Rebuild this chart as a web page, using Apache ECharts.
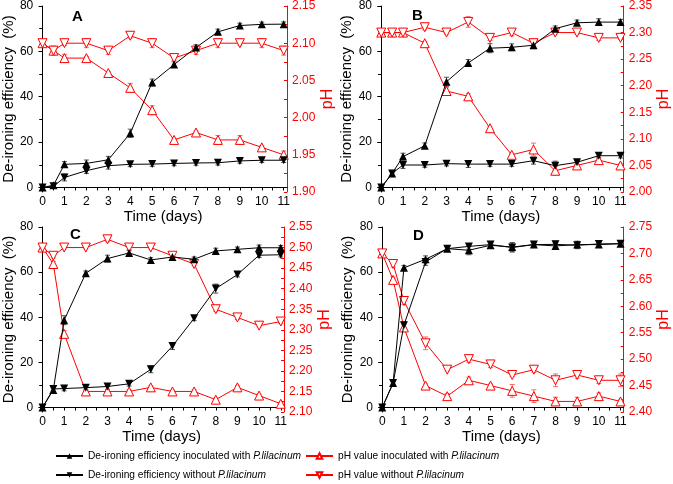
<!DOCTYPE html>
<html><head><meta charset="utf-8">
<script src="https://cdn.jsdelivr.net/npm/echarts@6/dist/echarts.min.js"></script>
<style>html,body{margin:0;padding:0;background:#fff}#c{width:673px;height:484px}</style>
</head><body><div id="c"></div>
<script>
// ---------- data ----------
const days = [0, 0.5, 1, 2, 3, 4, 5, 6, 7, 8, 9, 10, 11];
const dayTicks = [0, 1, 2, 3, 4, 5, 6, 7, 8, 9, 10, 11];
const effTicks = [0, 20, 40, 60, 80];

// Panel A
const aEffInoc = [0, 1, 10.2, 10.6, 12.2, 23.9, 46.3, 54.2, 61.7, 68.6, 71.4, 71.9, 72.0];
const aEffInocErr = [0.5, 0.8, 1.2, 1.5, 1.5, 1.8, 1.5, 1.2, 1.2, 1.2, 1.0, 1.0, 1.0];
const aEffWithout = [0, 0.5, 4.4, 7.4, 9.6, 10.2, 10.3, 10.6, 10.8, 10.9, 11.7, 12.0, 12.0];
const aEffWithoutErr = [0.5, 0.5, 1.5, 1.2, 1.5, 1.0, 1.0, 1.0, 1.0, 1.0, 1.0, 1.0, 1.0];
const aPhInoc = [2.10, 2.09, 2.08, 2.08, 2.06, 2.04, 2.01, 1.97, 1.98, 1.97, 1.97, 1.96, 1.95];
const aPhInocErr = [0.003, 0.006, 0.005, 0.002, 0.002, 0.006, 0.006, 0.002, 0.002, 0.006, 0.006, 0.002, 0.005];
const aPhWithout = [2.10, 2.09, 2.10, 2.10, 2.09, 2.11, 2.10, 2.08, 2.09, 2.10, 2.10, 2.10, 2.09];
const aPhWithoutErr = [0.003, 0.006, 0.003, 0.006, 0.005, 0.003, 0.006, 0.003, 0.005, 0.006, 0.003, 0.006, 0.006];
const aPhTicks = [1.90, 1.95, 2.00, 2.05, 2.10, 2.15];

// Panel B
const bEffInoc = [0, 6.2, 13.6, 18.4, 46.6, 54.9, 61.4, 61.8, 62.7, 70.0, 72.6, 72.9, 72.9];
const bEffInocErr = [0.5, 1.2, 1.5, 1.2, 2.0, 1.5, 2.0, 1.5, 1.5, 1.2, 1.2, 1.5, 1.2];
const bEffWithout = [0, 6.2, 9.9, 9.9, 10.5, 10.3, 10.3, 10.3, 11.8, 9.6, 11.1, 14.0, 14.0];
const bEffWithoutErr = [0.5, 1.0, 1.5, 1.0, 1.0, 1.5, 1.0, 1.0, 1.5, 2.0, 1.0, 1.0, 1.0];
const bPhInoc = [2.30, 2.30, 2.30, 2.28, 2.19, 2.18, 2.12, 2.07, 2.08, 2.04, 2.05, 2.06, 2.05];
const bPhInocErr = [0.003, 0.003, 0.003, 0.003, 0.006, 0.005, 0.003, 0.003, 0.012, 0.008, 0.005, 0.005, 0.003];
const bPhWithout = [2.30, 2.30, 2.30, 2.31, 2.30, 2.32, 2.29, 2.30, 2.28, 2.30, 2.30, 2.29, 2.29];
const bPhWithoutErr = [0.004, 0.004, 0.005, 0.005, 0.003, 0.010, 0.005, 0.006, 0.003, 0.003, 0.003, 0.005, 0.003];
const bPhTicks = [2.00, 2.05, 2.10, 2.15, 2.20, 2.25, 2.30, 2.35];

// Panel C
const cEffInoc = [0, 7.8, 38.7, 59.5, 66.0, 68.5, 65.4, 66.7, 65.7, 69.4, 70.1, 70.8, 70.8];
const cEffInocErr = [0.5, 1.0, 2.0, 1.0, 1.5, 1.0, 1.0, 1.0, 1.0, 1.2, 1.0, 1.2, 1.0];
const cEffWithout = [0, 8.2, 8.4, 8.8, 9.3, 10.5, 16.9, 27.2, 39.5, 52.7, 58.9, 67.5, 67.7];
const cEffWithoutErr = [0.5, 1.0, 1.0, 1.0, 1.2, 1.0, 1.5, 1.5, 1.0, 2.0, 1.0, 1.0, 1.0];
const cPhInoc = [2.50, 2.46, 2.29, 2.15, 2.15, 2.15, 2.16, 2.15, 2.15, 2.13, 2.16, 2.14, 2.12];
const cPhInocErr = [0.005, 0.006, 0.008, 0.003, 0.003, 0.004, 0.004, 0.003, 0.004, 0.004, 0.004, 0.004, 0.003];
const cPhWithout = [2.50, 2.48, 2.50, 2.50, 2.52, 2.50, 2.50, 2.48, 2.46, 2.35, 2.33, 2.31, 2.32];
const cPhWithoutErr = [0.005, 0.005, 0.004, 0.003, 0.006, 0.005, 0.003, 0.006, 0.004, 0.005, 0.005, 0.003, 0.005];
const cPhTicks = [2.10, 2.15, 2.20, 2.25, 2.30, 2.35, 2.40, 2.45, 2.50, 2.55];

// Panel D
const dEffInoc = [0, 10.8, 61.9, 65.7, 70.4, 69.7, 71.9, 71.1, 72.2, 71.6, 72.2, 72.2, 72.6];
const dEffInocErr = [0.5, 1.0, 1.0, 1.5, 1.2, 2.0, 1.2, 2.0, 1.2, 1.5, 1.5, 1.2, 1.2];
const dEffWithout = [0, 10.8, 36.5, 64.5, 70.4, 71.4, 72.2, 70.9, 72.2, 72.3, 71.9, 72.5, 72.6];
const dEffWithoutErr = [0.5, 1.0, 1.5, 1.5, 1.2, 1.2, 1.2, 2.0, 1.2, 1.5, 1.5, 1.2, 1.2];
const dPhInoc = [2.70, 2.65, 2.56, 2.45, 2.43, 2.46, 2.45, 2.44, 2.43, 2.42, 2.42, 2.43, 2.42];
const dPhInocErr = [0.003, 0.005, 0.005, 0.003, 0.005, 0.006, 0.003, 0.012, 0.012, 0.008, 0.008, 0.006, 0.003];
const dPhWithout = [2.70, 2.68, 2.61, 2.53, 2.48, 2.50, 2.49, 2.47, 2.48, 2.46, 2.47, 2.46, 2.46];
const dPhWithoutErr = [0.003, 0.006, 0.007, 0.012, 0.003, 0.006, 0.006, 0.003, 0.005, 0.012, 0.006, 0.006, 0.012];
const dPhTicks = [2.40, 2.45, 2.50, 2.55, 2.60, 2.65, 2.70, 2.75];

const panelLetters = ['A', 'B', 'C', 'D'];
const seriesNames = [
  'De-ironing efficiency inoculated with P.lilacinum',
  'De-ironing efficiency without P.lilacinum',
  'pH value inoculated with P.lilacinum',
  'pH value without P.lilacinum'
];

// ---------- layout / style ----------
const FONT = '"Liberation Sans", Arial, sans-serif';
const RED = '#ff0000';
const panels = [
  {eff: [aEffInoc, aEffInocErr, aEffWithout, aEffWithoutErr], ph: [aPhInoc, aPhInocErr, aPhWithout, aPhWithoutErr], phTicks: aPhTicks,
   grid: {left: 38, top: 6, width: 249, height: 186}, letter: [72, 9]},
  {eff: [bEffInoc, bEffInocErr, bEffWithout, bEffWithoutErr], ph: [bPhInoc, bPhInocErr, bPhWithout, bPhWithoutErr], phTicks: bPhTicks,
   grid: {left: 378, top: 6, width: 251, height: 186}, letter: [412, 8]},
  {eff: [cEffInoc, cEffInocErr, cEffWithout, cEffWithoutErr], ph: [cPhInoc, cPhInocErr, cPhWithout, cPhWithoutErr], phTicks: cPhTicks,
   grid: {left: 38, top: 227, width: 246, height: 185}, letter: [70, 227]},
  {eff: [dEffInoc, dEffInocErr, dEffWithout, dEffWithoutErr], ph: [dPhInoc, dPhInocErr, dPhWithout, dPhWithoutErr], phTicks: dPhTicks,
   grid: {left: 379, top: 227, width: 250, height: 185}, letter: [413, 228]}
];

const grids = [], xAxes = [], yAxes = [], series = [], titles = [];
const halfDays = [];
for (let v = 0; v <= 11; v += 0.5) halfDays.push(v);

function errBar(xi, yi, vals, errs, color) {
  return {
    type: 'custom', xAxisIndex: xi, yAxisIndex: yi, silent: true, z: 1,
    data: days.map((d, k) => [d, vals[k], errs[k]]),
    encode: {x: 0, y: 1},
    renderItem: (params, api) => {
      const x = api.value(0), y = api.value(1), e = api.value(2);
      const hi = api.coord([x, y + e]), lo = api.coord([x, y - e]);
      const w = 2.5;
      const st = {stroke: color, lineWidth: 1};
      return {type: 'group', children: [
        {type: 'line', shape: {x1: hi[0], y1: hi[1], x2: lo[0], y2: lo[1]}, style: st},
        {type: 'line', shape: {x1: hi[0] - w, y1: hi[1], x2: hi[0] + w, y2: hi[1]}, style: st},
        {type: 'line', shape: {x1: lo[0] - w, y1: lo[1], x2: lo[0] + w, y2: lo[1]}, style: st}
      ]};
    }
  };
}

panels.forEach((p, i) => {
  grids.push(Object.assign({containLabel: false}, p.grid));
  const phMin = p.phTicks[0], phMax = p.phTicks[p.phTicks.length - 1];
  const phMinor = [];
  for (let k = 0; k < p.phTicks.length - 1; k++) phMinor.push(p.phTicks[k], +((p.phTicks[k] + p.phTicks[k + 1]) / 2).toFixed(3));
  phMinor.push(phMax);
  xAxes.push({
    type: 'value', gridIndex: i, min: -0.15, max: 11.15,
    axisLine: {show: true, lineStyle: {color: '#000', width: 1}},
    axisTick: {show: true, customValues: halfDays, length: 3, inside: false, lineStyle: {color: '#000'}},
    axisLabel: {customValues: dayTicks, fontSize: 12, fontFamily: FONT, color: '#000', margin: 4},
    splitLine: {show: false},
    name: 'Time (days)', nameLocation: 'middle', nameGap: 17,
    nameTextStyle: {fontSize: 15, fontFamily: FONT, color: '#000'}
  });
  yAxes.push({
    type: 'value', gridIndex: i, position: 'left', min: -2, max: 80,
    axisLine: {show: true, lineStyle: {color: '#000'}},
    axisTick: {show: true, customValues: effTicks, length: 4, inside: false, lineStyle: {color: '#000'}},
    axisLabel: {customValues: effTicks, fontSize: 12, fontFamily: FONT, color: '#000', margin: 6},
    splitLine: {show: false},
    name: 'De-ironing efficiency  (%)', nameLocation: 'middle', nameGap: 22,
    nameTextStyle: {fontSize: 15, fontFamily: FONT, color: '#000'}
  });
  yAxes.push({
    type: 'value', gridIndex: i, position: 'right', min: phMin, max: phMax,
    axisLine: {show: true, lineStyle: {color: RED}},
    axisTick: {show: true, customValues: phMinor, length: 3, inside: true, lineStyle: {color: RED}},
    axisLabel: {customValues: p.phTicks, fontSize: 12, fontFamily: FONT, color: RED, margin: 5,
      formatter: v => (+v).toFixed(2)},
    splitLine: {show: false},
    name: 'pH', nameLocation: 'middle', nameGap: 22,
    nameTextStyle: {fontSize: 16, fontFamily: FONT, color: RED}
  });
  yAxes.push({
    type: 'value', gridIndex: i, position: 'left', min: -2, max: 80,
    axisLine: {show: false},
    axisTick: {show: true, customValues: [10, 30, 50, 70], length: 3, inside: true, lineStyle: {color: '#000'}},
    axisLabel: {show: false}, splitLine: {show: false}
  });
  const yl = 3 * i, yr = 3 * i + 1;
  series.push(errBar(i, yr, p.ph[0], p.ph[1], '#ff6a6a'));
  series.push(errBar(i, yr, p.ph[2], p.ph[3], '#ff6a6a'));
  series.push(errBar(i, yl, p.eff[0], p.eff[1], '#555'));
  series.push(errBar(i, yl, p.eff[2], p.eff[3], '#555'));
  series.push({
    name: seriesNames[2], type: 'line', xAxisIndex: i, yAxisIndex: yr, z: 2,
    data: days.map((d, k) => [d, p.ph[0][k]]),
    symbol: 'triangle', symbolSize: 9,
    lineStyle: {color: RED, width: 1}, itemStyle: {color: '#fff', borderColor: RED, borderWidth: 1}
  });
  series.push({
    name: seriesNames[3], type: 'line', xAxisIndex: i, yAxisIndex: yr, z: 2,
    data: days.map((d, k) => [d, p.ph[2][k]]),
    symbol: 'triangle', symbolSize: 9, symbolRotate: 180,
    lineStyle: {color: RED, width: 1}, itemStyle: {color: '#fff', borderColor: RED, borderWidth: 1}
  });
  series.push({
    name: seriesNames[0], type: 'line', xAxisIndex: i, yAxisIndex: yl, z: 3,
    data: days.map((d, k) => [d, p.eff[0][k]]),
    symbol: 'triangle', symbolSize: 8,
    lineStyle: {color: '#000', width: 1}, itemStyle: {color: '#000'}
  });
  series.push({
    name: seriesNames[1], type: 'line', xAxisIndex: i, yAxisIndex: yl, z: 3,
    data: days.map((d, k) => [d, p.eff[2][k]]),
    symbol: 'triangle', symbolSize: 8, symbolRotate: 180,
    lineStyle: {color: '#000', width: 1}, itemStyle: {color: '#000'}
  });
  titles.push({text: panelLetters[i], left: p.letter[0], top: p.letter[1], padding: 0,
    textStyle: {fontSize: 15, fontWeight: 'bold', fontFamily: FONT, color: '#000'}});
});

const legendText = {
  fontSize: 10.2, fontFamily: FONT, color: '#000',
  rich: {i: {fontSize: 10.2, fontFamily: FONT, fontStyle: 'italic', color: '#000'}}
};
const fmt = n => n.replace('P.lilacinum', '{i|P.lilacinum}');

const chart = echarts.init(document.getElementById('c'), null, {renderer: 'canvas'});
chart.setOption({
  animation: false,
  backgroundColor: '#fff',
  title: titles,
  grid: grids,
  xAxis: xAxes,
  yAxis: yAxes,
  legend: [
    {orient: 'vertical', left: 55, top: 451, itemWidth: 27, itemHeight: 7, itemGap: 9, padding: 0,
     data: [seriesNames[0], seriesNames[1]], formatter: fmt, textStyle: legendText, selectedMode: false},
    {orient: 'vertical', left: 305, top: 451, itemWidth: 27, itemHeight: 7, itemGap: 9, padding: 0,
     data: [seriesNames[2], seriesNames[3]], formatter: fmt, textStyle: legendText, selectedMode: false}
  ],
  series: series
});
</script>
</body></html>
